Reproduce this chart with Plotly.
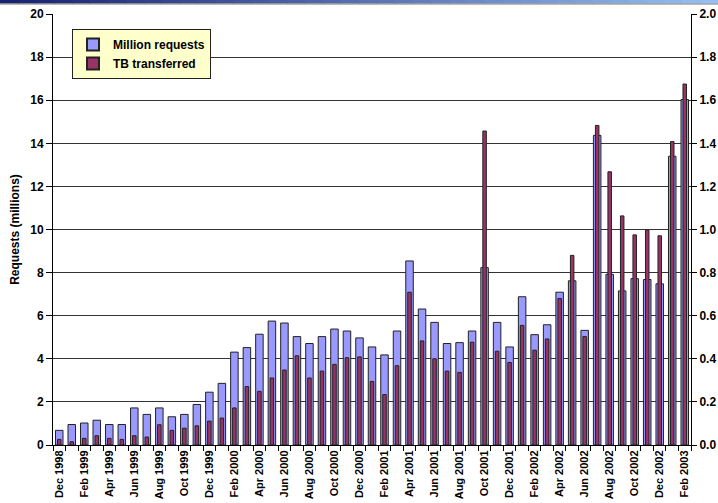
import plotly.graph_objects as go
import pandas as pd

months = [d.strftime("%b %Y") for d in pd.date_range("1998-12-01", "2003-02-01", freq="MS")]

million_requests = [
    0.68, 0.95, 1.02, 1.15, 0.95, 0.95, 1.72, 1.42, 1.72, 1.31, 1.42, 1.88,
    2.45, 2.86, 4.31, 4.52, 5.14, 5.75, 5.66, 5.03, 4.71, 5.03, 5.38, 5.29,
    4.97, 4.55, 4.18, 5.29, 8.54, 6.31, 5.69, 4.71, 4.75, 5.29, 8.23, 5.69,
    4.55, 6.88, 5.12, 5.58, 7.09, 7.62, 5.32, 14.37, 7.92, 7.15, 7.72, 7.68,
    7.48, 13.40, 16.03,
]
tb_transferred = [
    0.026, 0.015, 0.031, 0.043, 0.031, 0.026, 0.043, 0.037, 0.094, 0.068, 0.078, 0.089,
    0.111, 0.125, 0.172, 0.271, 0.249, 0.311, 0.348, 0.414, 0.311, 0.343, 0.374, 0.405,
    0.409, 0.295, 0.234, 0.368, 0.709, 0.483, 0.400, 0.343, 0.337, 0.477, 1.457, 0.435,
    0.383, 0.555, 0.440, 0.492, 0.680, 0.880, 0.503, 1.483, 1.268, 1.063, 0.975, 0.997,
    0.971, 1.408, 1.675,
]
tick_text = [m if i % 2 == 0 else "" for i, m in enumerate(months)]

BOLD = dict(family="Liberation Sans, Arial, sans-serif", weight="bold", color="black")

fig = go.Figure()
fig.add_trace(go.Bar(
    x=months, y=million_requests, name="Million requests", width=0.6,
    marker=dict(color="#9999FF", line=dict(color="#222222", width=1)),
))
fig.add_trace(go.Bar(
    x=months, y=tb_transferred, name="TB transferred", width=0.28, yaxis="y2",
    marker=dict(color="#993366", line=dict(color="#222222", width=1)),
))

W, H = 718, 503
L, R, T, B = 53, 27, 14, 58
ph = H - T - B
pw = W - L - R

shapes = []
# top gradient banner
n = 40
c0 = (25, 35, 110)
c1 = (150, 190, 240)
for i in range(n):
    f = i / (n - 1)
    col = "rgb(%d,%d,%d)" % tuple(int(a + (b - a) * f) for a, b in zip(c0, c1))
    shapes.append(dict(type="rect", xref="paper", yref="paper",
                       x0=(-L + i * W / n) / pw, x1=(-L + (i + 1) * W / n + 1) / pw,
                       y0=1 + (T - 3.5) / ph, y1=1 + T / ph,
                       fillcolor=col, line=dict(width=0), layer="above"))
shapes.append(dict(type="line", xref="paper", yref="paper",
                   x0=-L / pw, x1=1 + R / pw,
                   y0=1 + (T - 4) / ph, y1=1 + (T - 4) / ph,
                   line=dict(color="#777777", width=1)))

fig.update_layout(
    width=W, height=H,
    margin=dict(l=L, r=R, t=T, b=B, pad=0),
    paper_bgcolor="white", plot_bgcolor="white",
    barmode="overlay",
    showlegend=True,
    legend=dict(x=19 / pw, y=1 - 15 / ph, xanchor="left", yanchor="top",
                bgcolor="#FFFFCC", bordercolor="#222222", borderwidth=1,
                font=dict(size=12, **BOLD), tracegroupgap=0, itemsizing="constant"),
    xaxis=dict(type="category", tickmode="array", tickvals=months, ticktext=tick_text,
               tickangle=-90, tickson="boundaries", ticks="outside", ticklen=5,
               tickcolor="black", showline=True, linecolor="black", linewidth=1,
               showgrid=False, tickfont=dict(size=11, **BOLD),
               range=[-0.5, len(months) - 0.5], automargin=False),
    yaxis=dict(range=[0, 20], dtick=2, showgrid=True, gridcolor="#333333", gridwidth=1,
               showline=True, linecolor="black", linewidth=1, ticks="outside", ticklen=6,
               tickcolor="black", tickfont=dict(size=12, **BOLD), zeroline=False,
               automargin=False,
               title=dict(text="Requests (millions)", font=dict(size=12, **BOLD), standoff=8)),
    yaxis2=dict(range=[0, 2], dtick=0.2, tickformat=".1f", overlaying="y", side="right",
                showgrid=False, showline=True, linecolor="black", linewidth=1,
                ticks="outside", ticklen=5, tickcolor="black", zeroline=False,
                automargin=False, tickfont=dict(size=12, **BOLD)),
    shapes=shapes,
)

fig.write_html("out.html", config={"displayModeBar": False},
               post_script="document.body.style.margin='0';document.body.style.overflow='hidden';")
